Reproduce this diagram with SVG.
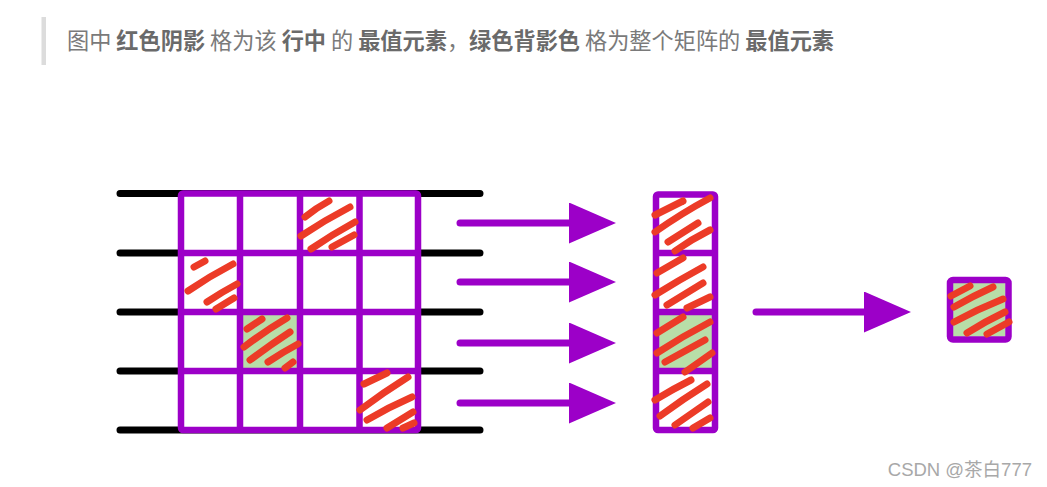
<svg xmlns="http://www.w3.org/2000/svg" width="1047" height="487" viewBox="0 0 1047 487">
<style>
.hdr{font-family:"Noto Sans CJK SC","Noto Sans",sans-serif;font-size:22.2px;fill:#7a7a7a}
.b{font-weight:bold;fill:#6a6a6a}
.wm{font-family:"Liberation Sans","Noto Sans CJK SC",sans-serif;font-size:18.5px;fill:#a8a8a8}
.blk{stroke:#000;stroke-width:7;stroke-linecap:round;fill:none}
.pur{stroke:#9c00c8;stroke-width:6.5;fill:none;stroke-linejoin:round}
.grn{fill:#b8dea8}
.red{stroke:#ec3b27;stroke-width:7;stroke-linecap:round;fill:none}
.arr{stroke:#9c00c8;stroke-width:7;stroke-linecap:round;fill:none}
</style>
<defs>
<marker id="ah" markerUnits="userSpaceOnUse" markerWidth="48" markerHeight="42" refX="1" refY="20.5" orient="auto" viewBox="0 0 48 42">
<path d="M0,0 L47,20.5 L0,41 Z" fill="#9c00c8"/>
</marker>
</defs>
<rect width="1047" height="487" fill="#fff"/>
<g id="header">
<rect x="41.5" y="17" width="4.5" height="48" fill="#dcdcdc"/>
<text class="hdr" x="67" y="49">图中 <tspan class="b">红色阴影</tspan> 格为该 <tspan class="b">行中</tspan> 的 <tspan class="b">最值元素</tspan>，<tspan class="b">绿色背影色</tspan> 格为整个矩阵的 <tspan class="b">最值元素</tspan></text>
</g>
<g id="matrix">
<path class="blk" d="M120,193.5H480M120,253H480M120,312H480M120,371H480M120,430H480"/>
<rect x="181" y="193.5" width="237" height="236.5" fill="#fff"/>
<rect class="grn" x="243" y="315" width="54" height="53"/>
<rect class="pur" x="181" y="193.5" width="237" height="236.5" rx="2"/>
<path class="pur" d="M240,193.5V430M300,193.5V430M359.5,193.5V430M181,253H418M181,312H418M181,371H418"/>
<g class="red">
<path d="M305,217Q316,208 329,201"/>
<path d="M301,236Q325,220 350,207"/>
<path d="M311,249Q333,234 355,222"/>
<path d="M332,247L354,235"/>
<path d="M194,267L205,261"/>
<path d="M188,291Q210,276 233,264"/>
<path d="M207,302Q222,292 237,284"/>
<path d="M216,309L234,298"/>
<path d="M247,329L262,319"/>
<path d="M244,347Q265,331 287,318"/>
<path d="M250,360Q270,345 290,332"/>
<path d="M268,362Q283,352 298,344"/>
<path d="M285,368L293,362"/>
<path d="M364,384L387,373"/>
<path d="M360,410Q384,392 408,377"/>
<path d="M367,420Q389,407 412,397"/>
<path d="M387,428L413,412"/>
<path d="M403,428L414,423"/>
</g>
</g>
<g id="column">
<rect class="grn" x="659" y="315" width="53" height="53"/>
<rect class="pur" x="656" y="194.5" width="59" height="235.5" rx="2"/>
<path class="pur" d="M656,253H715M656,312H715M656,371H715"/>
<g class="red">
<path d="M655,215L683,201"/>
<path d="M655,232Q682,213 710,198"/>
<path d="M668,242L698,223"/>
<path d="M675,251Q692,239 710,230"/>
<path d="M657,273L683,258"/>
<path d="M655,295Q679,280 703,267"/>
<path d="M667,305L703,283"/>
<path d="M687,308L710,297"/>
<path d="M657,333L683,317"/>
<path d="M657,353Q683,336 710,322"/>
<path d="M665,362L705,340"/>
<path d="M685,372L712,353"/>
<path d="M655,400Q673,389 691,380"/>
<path d="M660,416Q683,399 707,384"/>
<path d="M675,425L708,402"/>
<path d="M693,428L710,418"/>
</g>
</g>
<g id="result">
<rect class="grn" x="953" y="283" width="52.5" height="53.5"/>
<rect class="pur" x="950" y="280" width="58.5" height="59.5" rx="3"/>
<g class="red">
<path d="M951,296L970,286"/>
<path d="M954,307Q973,296 993,287"/>
<path d="M954,322Q978,309 1003,299"/>
<path d="M967,333Q986,321 1005,312"/>
<path d="M987,334L1009,322"/>
</g>
</g>
<g id="connectors">
<path class="arr" marker-end="url(#ah)" d="M460,223H570"/>
<path class="arr" marker-end="url(#ah)" d="M460,282H570"/>
<path class="arr" marker-end="url(#ah)" d="M460,343H570"/>
<path class="arr" marker-end="url(#ah)" d="M460,403H570"/>
<path class="arr" marker-end="url(#ah)" d="M756,312H865"/>
</g>
<g id="watermark">
<text class="wm" x="1032" y="476" text-anchor="end">CSDN @茶白777</text>
</g>
</svg>
